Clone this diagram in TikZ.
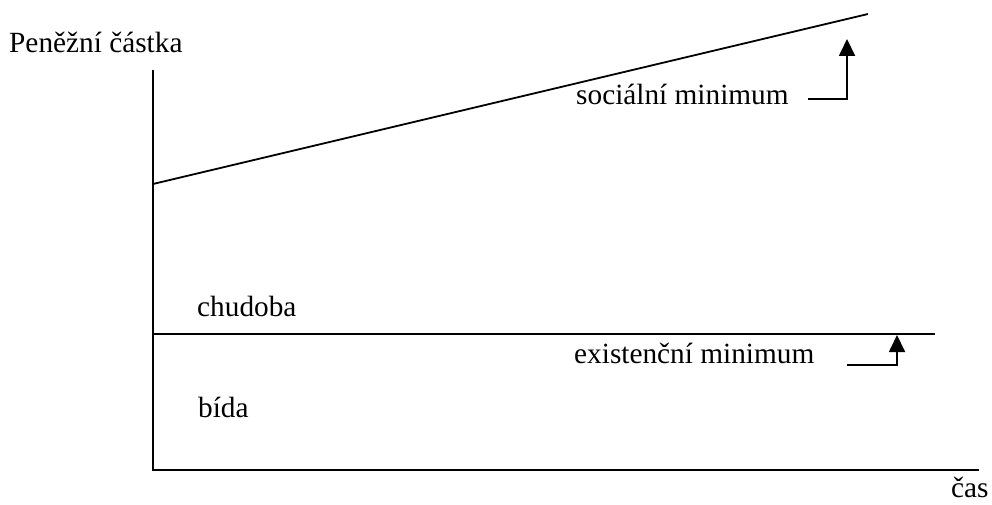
\documentclass[tikz,border=0pt]{standalone}
\usepackage{fontspec}
\setmainfont{Liberation Serif}
\usetikzlibrary{arrows.meta}
\begin{document}
\begin{tikzpicture}[x=1pt,y=-1pt,
  lbl/.style={anchor=base west,inner sep=0pt,font=\fontsize{29.3}{35}\selectfont},
  ln/.style={line width=1.8pt},
  up/.style={line width=1.8pt,-{Triangle[width=16pt,length=17pt]}}]
\useasboundingbox (0,0) rectangle (992,505);
% axes
\coordinate (ytop) at (153,70);
\coordinate (orig) at (153,470);
\coordinate (xend) at (979,470);
\draw[ln] (ytop) -- (orig) -- (xend);
% social minimum line
\coordinate (s0) at (153,184);
\coordinate (s1) at (868,14);
\draw[ln] (s0) -- (s1);
% existence minimum line
\coordinate (e0) at (153,334);
\coordinate (e1) at (935,334);
\draw[ln] (e0) -- (e1);
% labels
\node[lbl] (ylab) at (9,53) {Peněžní částka};
\node[lbl] (soc) at (576,105) {sociální minimum};
\node[lbl] (chud) at (197,316) {chudoba};
\node[lbl] (ex) at (574,363) {existenční minimum};
\node[lbl] (bida) at (198,417) {bída};
\node[lbl] (cas) at (951,497) {čas};
% arrows
\coordinate (a1s) at (808,99);
\coordinate (a1c) at (847,99);
\coordinate (a1t) at (847,39);
\draw[up] (a1s) -- (a1c) -- (a1t);
\coordinate (a2s) at (847,365);
\coordinate (a2c) at (897,365);
\coordinate (a2t) at (897,335);
\draw[up] (a2s) -- (a2c) -- (a2t);
\end{tikzpicture}
\end{document}
